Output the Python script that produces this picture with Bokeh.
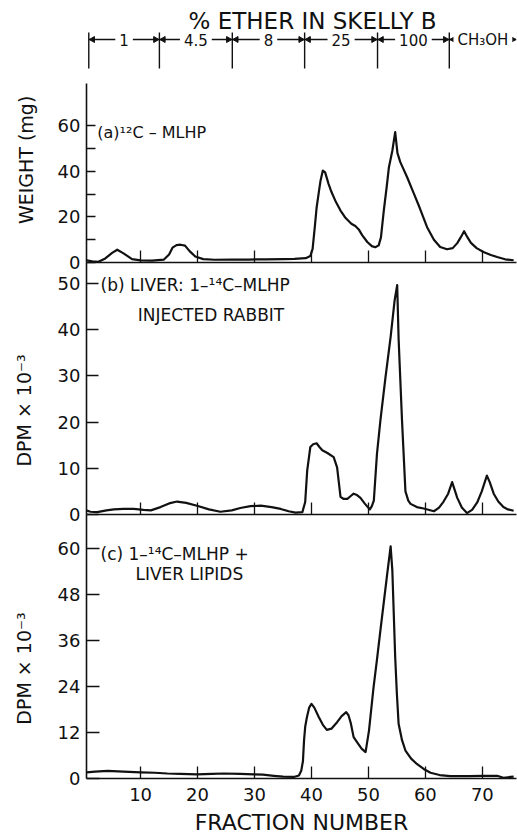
import math
from bokeh.plotting import figure
from bokeh.models import Range1d, FixedTicker
from bokeh.layouts import column, row
from bokeh.embed import file_html
from bokeh.resources import INLINE
from bokeh.core.properties import value

FONT = "DejaVu Sans"
INK = "#111111"

# ---------------- data ----------------
solvent_title = "% ETHER IN SKELLY B"
solvent_labels = ["1", "4.5", "8", "25", "100", "CH₃OH"]
solvent_bounds = [0.9, 13.3, 26.1, 38.8, 51.6, 64.2, 76.0]

x_ticks = [10, 20, 30, 40, 50, 60, 70]
x_label = "FRACTION NUMBER"

frac_a = [0.5, 1.5, 2.6, 3.8, 5.0, 5.9, 7.0, 8.5, 10.0, 12.0, 14.1, 15.0, 15.6, 16.3, 17.0, 17.8, 18.6, 19.6, 21.0, 23.0,
          26.0, 29.0, 32.0, 35.0, 37.0, 38.3, 39.0, 39.8, 40.2, 40.6, 40.9, 41.3, 41.6, 42.0, 42.4, 43.0, 43.5, 44.3, 45.1, 46.0,
          47.0, 47.7, 48.3, 48.9, 49.8, 50.6, 51.2, 51.8, 52.2, 52.7, 53.2, 53.6, 54.2, 54.7, 55.1, 55.6, 56.8, 58.0, 59.0, 60.3,
          61.5, 62.6, 63.8, 64.8, 65.6, 66.2, 66.8, 67.4, 68.0, 69.0, 70.2, 71.5, 72.6, 74.0, 75.5]
weight_a = [1.0, 0.5, 0.3, 1.8, 4.2, 5.6, 4.0, 1.5, 0.9, 0.8, 1.3, 3.5, 6.5, 7.6, 7.8, 7.4, 5.0, 2.6, 1.5, 1.2,
            1.3, 1.3, 1.4, 1.5, 1.6, 1.8, 1.9, 2.8, 6.0, 16.0, 24.0, 31.0, 36.0, 40.3, 39.5, 34.5, 31.0, 26.5, 22.8, 19.5,
            17.0, 16.0, 14.5, 12.0, 9.0, 7.2, 6.7, 7.5, 11.0, 22.8, 33.0, 41.8, 49.0, 57.2, 48.0, 44.0, 37.4, 30.1, 24.0, 15.5,
            10.0, 6.8, 5.8, 6.3, 8.5, 11.0, 13.7, 11.0, 8.6, 6.3, 4.6, 3.3, 2.4, 1.4, 1.0]

frac_b = [0.4, 1.2, 2.4, 4.0, 5.3, 7.0, 8.8, 10.5, 11.8, 13.5, 15.0, 16.4, 18.0, 19.9, 22.0, 24.0, 26.0, 27.5, 29.3, 31.1,
          33.0, 34.6, 36.0, 37.2, 38.4, 38.9, 39.25, 39.8, 40.3, 40.9, 41.4, 41.9, 42.8, 43.9, 44.5, 44.8, 45.1, 45.6, 46.3, 46.9,
          47.4, 48.0, 48.6, 49.4, 50.25, 50.6, 50.95, 51.5, 52.1, 53.0, 53.9, 54.6, 55.05, 55.3, 55.9, 56.5, 57.0, 57.4, 58.5, 59.7,
          61.5, 62.4, 63.2, 64.0, 64.7, 65.1, 65.6, 66.4, 67.3, 68.2, 69.1, 69.9, 70.8, 71.3, 72.0, 72.8, 73.7, 74.5, 75.5]
dpm_b = [0.9, 0.6, 0.5, 0.9, 1.1, 1.2, 1.2, 1.0, 0.9, 1.6, 2.4, 2.8, 2.5, 1.9, 1.1, 0.6, 0.9, 1.4, 1.8, 1.9,
         1.6, 1.2, 0.7, 0.4, 0.5, 2.7, 9.5, 14.6, 15.2, 15.4, 14.6, 13.9, 13.3, 12.4, 10.2, 7.0, 3.8, 3.4, 3.4, 4.0,
         4.5, 4.2, 3.6, 2.3, 1.1, 1.8, 3.0, 13.1, 20.3, 29.7, 38.4, 46.3, 49.6, 38.0, 20.3, 5.0, 3.0, 2.3, 1.6, 1.3,
         0.7, 1.5, 2.8, 4.5, 7.0, 5.5, 3.6, 1.5, 0.3, 1.0, 2.6, 5.0, 8.4, 7.0, 4.5, 2.8, 1.6, 1.1, 0.8]

frac_c = [0.5, 2.0, 4.2, 7.0, 10.0, 12.5, 14.7, 17.0, 19.9, 22.5, 24.6, 27.5, 29.9, 31.5, 33.4, 35.0, 36.9, 37.8, 38.2, 38.5,
          38.7, 38.9, 39.2, 39.6, 40.0, 40.5, 41.3, 42.0, 42.7, 43.5, 44.5, 45.3, 46.1, 46.5, 46.9, 47.4, 48.0, 48.8, 49.5, 50.1,
          50.9, 51.5, 52.1, 52.7, 53.3, 53.9, 54.2, 54.7, 55.0, 55.3, 55.9, 56.5, 57.5, 58.5, 59.7, 60.9, 62.5, 64.4, 67.7, 70.0,
          72.6, 73.7, 75.5]
dpm_c = [1.6, 1.8, 2.0, 1.8, 1.6, 1.5, 1.3, 1.2, 1.1, 1.2, 1.3, 1.2, 1.1, 1.0, 0.7, 0.5, 0.4, 0.8, 2.0, 4.5,
         10.0, 13.5, 16.0, 18.5, 19.5, 18.5, 16.0, 14.0, 12.7, 13.0, 14.7, 16.3, 17.3, 16.5, 14.5, 10.8, 9.5, 7.8, 6.9, 12.5,
         23.8, 31.0, 38.6, 46.0, 53.4, 60.6, 54.3, 31.7, 22.0, 14.3, 10.0, 7.3, 5.2, 3.8, 2.5, 1.5, 0.9, 0.6, 0.6, 0.7,
         0.7, 0.2, 0.5]

ticks_a = [0, 20, 40, 60]
minor_a = [10, 30, 50]
ticks_b = [0, 10, 20, 30, 40, 50]
ticks_c = [0, 12, 24, 36, 48, 60]

label_a = ["(a)¹²C – MLHP"]
label_b = ["(b) LIVER: 1–¹⁴C–MLHP", "INJECTED  RABBIT"]
label_c = ["(c) 1–¹⁴C–MLHP +", "LIVER LIPIDS"]
ylabel_a = "WEIGHT (mg)"
ylabel_bc = "DPM × 10⁻³"

# ---------------- layout ----------------
W = 517
LW = 44            # width of the strip that carries the rotated y titles
PW = W - LW
LEFT = 86 - LW
RIGHT = 1
xr = Range1d(0.5, 76.0)

# header
hdr = figure(width=W, height=83, x_range=xr, y_range=Range1d(0, 83),
             output_backend="svg", toolbar_location=None,
             min_border_left=86, min_border_right=RIGHT, min_border_top=0, min_border_bottom=0,
             x_axis_location=None, y_axis_location=None)
hdr.grid.visible = False
hdr.outline_line_color = None

starts = solvent_bounds[:-1]
ends = solvent_bounds[1:]
mids = [(a + b) / 2 for a, b in zip(starts, ends)]
ROW = 44
n = len(starts)
hdr.segment(x0=starts, y0=[ROW] * n, x1=ends, y1=[ROW] * n, line_color=INK, line_width=1.4)
hdr.segment(x0=starts, y0=[15] * n, x1=starts, y1=[51] * n, line_color=INK, line_width=1.4)
hdr.scatter(x=[s + 0.7 for s in starts], y=[ROW] * n, marker="triangle", angle=math.pi / 2,
            size=6, color=INK)
hdr.scatter(x=[e - 0.7 for e in ends], y=[ROW] * n, marker="triangle", angle=-math.pi / 2,
            size=6, color=INK)
hdr.text(x=mids, y=[ROW] * n, text=solvent_labels, text_align="center", text_baseline="middle",
         text_font=value(FONT), text_font_size="15px", text_color=INK,
         background_fill_color="white", padding=4)
hdr.text(x=[40.2], y=[63], text=[solvent_title], text_align="center", text_baseline="middle",
         text_font=value(FONT), text_font_size="23px", text_color=INK)


def panel(height, y_end, ticks, minor, tick_len, border_bottom, transparent, show_xlabels):
    yr = Range1d(0, y_end)
    p = figure(width=PW, height=height, x_range=xr, y_range=yr,
               output_backend="svg", toolbar_location=None,
               min_border_left=LEFT, min_border_right=RIGHT, min_border_top=0,
               min_border_bottom=border_bottom)
    p.grid.visible = False
    p.outline_line_color = None
    if transparent:
        p.background_fill_color = None
        p.border_fill_color = None
    for ax in (p.xaxis[0], p.yaxis[0]):
        ax.axis_line_color = INK
        ax.axis_line_width = 1.6
        ax.major_tick_line_color = INK
        ax.major_tick_line_width = 1.3
        ax.minor_tick_line_color = INK
        ax.minor_tick_line_width = 1.3
        ax.major_tick_out = 0
        ax.minor_tick_out = 0
        ax.major_label_text_font = FONT
        ax.major_label_text_color = INK
    xa = p.xaxis[0]
    xa.ticker = FixedTicker(ticks=x_ticks)
    xa.major_tick_in = 12
    if show_xlabels:
        xa.major_label_text_font_size = "18px"
        xa.major_label_standoff = 9
        xa.axis_label = x_label
        xa.axis_label_text_font = FONT
        xa.axis_label_text_font_size = "22px"
        xa.axis_label_text_font_style = "normal"
        xa.axis_label_text_color = INK
        xa.axis_label_standoff = 6
    else:
        xa.major_label_text_font_size = "0px"
        xa.major_label_text_color = None
        xa.major_label_standoff = 0
    ya = p.yaxis[0]
    ya.ticker = FixedTicker(ticks=ticks, minor_ticks=minor)
    ya.major_tick_in = tick_len
    ya.minor_tick_in = 9
    ya.major_label_text_font_size = "18px"
    ya.major_label_standoff = 6

    # strip at the left that carries the rotated axis title, sharing the y range
    s = figure(width=LW, height=height, x_range=Range1d(0, LW), y_range=yr,
               output_backend="svg", toolbar_location=None,
               min_border_left=0, min_border_right=0, min_border_top=0,
               min_border_bottom=border_bottom, x_axis_location=None, y_axis_location=None)
    s.grid.visible = False
    s.outline_line_color = None
    s.background_fill_color = None
    s.border_fill_color = None
    return p, s


pa, sa = panel(191, 78.5, ticks_a, minor_a, 9, 12, False, False)
pb, sb = panel(264, 54.5, ticks_b, [], 12, 12, True, False)
pc, sc = panel(326, 68.9, ticks_c, [], 13, 62, True, True)

pa.line(frac_a, weight_a, line_color=INK, line_width=2.2, line_join="round")
pb.line(frac_b, dpm_b, line_color=INK, line_width=2.2, line_join="round")
pc.line(frac_c, dpm_c, line_color=INK, line_width=2.2, line_join="round")

pa.text(x=[2.4], y=[57], text=label_a, text_align="left", text_baseline="middle",
        text_font=value(FONT), text_font_size="16px", text_color=INK)
pb.text(x=[2.96, 9.5], y=[49.6, 43.1], text=label_b, text_align="left", text_baseline="middle",
        text_font=value(FONT), text_font_size="17px", text_color=INK)
pc.text(x=[2.96, 9.1], y=[58.5, 53.5], text=label_c, text_align="left", text_baseline="middle",
        text_font=value(FONT), text_font_size="17px", text_color=INK)

for s, txt, yv, xs in ((sa, ylabel_a, 45, 25), (sb, ylabel_bc, 22.5, 23), (sc, ylabel_bc, 28.7, 23)):
    s.text(x=[xs], y=[yv], text=[txt], angle=math.pi / 2, text_align="center", text_baseline="middle",
           text_font=value(FONT), text_font_size="19px", text_color=INK)

ra = row(sa, pa, spacing=0)
rb = row(sb, pb, spacing=0, margin=(-12, 0, 0, 0))
rc = row(sc, pc, spacing=0, margin=(-12, 0, 0, 0))

layout = column(hdr, ra, rb, rc, spacing=0)
open("out.html", "w").write(file_html(layout, INLINE))
